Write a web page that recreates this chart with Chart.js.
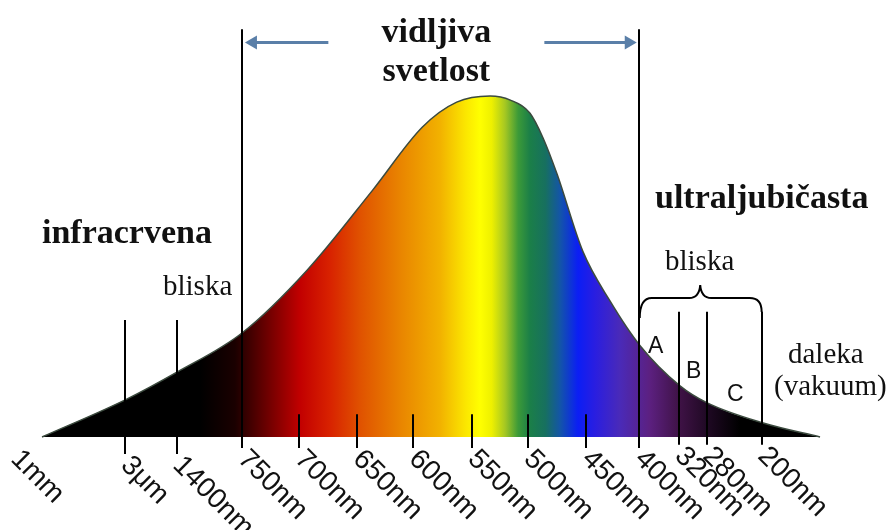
<!DOCTYPE html>
<html>
<head>
<meta charset="utf-8">
<script src="https://cdn.jsdelivr.net/npm/chart.js@4.4.1/dist/chart.umd.min.js"></script>
<style>
  html, body { margin: 0; padding: 0; background: #fff; }
</style>
</head>
<body>
<canvas id="spectrum-chart" width="892" height="530"></canvas>
<script>
// position along the spectrum (0 = infrared end, 100 = far UV end) and relative intensity
const curveX = [0, 10.7, 17.4, 25.7, 34.1, 42.5, 48.9, 53.3, 57.6, 60.2, 62.7, 64.4, 66.2, 69.5, 73.0, 76.9, 82.0, 85.5, 92.7, 100];
const curveY = [0, 10.9, 19.1, 30.5, 49.0, 72.4, 90.9, 98.2, 100, 98.8, 95.0, 87.7, 77.1, 54.5, 39.9, 26.7, 15.0, 10.0, 4.1, 0];

// wavelength ticks
const tickLabels = ['1mm', '3μm', '1400nm', '750nm', '700nm', '650nm', '600nm', '550nm', '500nm', '450nm', '400nm', '320nm', '280nm', '200nm'];
const tickPos = [-3.5, 10.7, 17.4, 25.7, 33.0, 40.5, 47.7, 55.3, 62.5, 69.9, 76.7, 81.9, 85.5, 92.5];
const tickKind = ['none', 'ir', 'ir', 'edge', 'short', 'short', 'short', 'short', 'short', 'short', 'edge', 'uv', 'uv', 'uv'];

// line top / bottom in intensity units for each kind of tick
const lineSpan = {
  none: null,
  ir: [34.3, -5],
  edge: [119.6, -3.2],
  short: [6.7, -3.2],
  uv: [36.7, -2.3],
};

const spectrumStops = [
  [0, '#000000'], [0.203, '#000000'], [0.248, '#1a0000'], [0.28, '#5a0000'], [0.332, '#c20000'],
  [0.37, '#d82200'], [0.409, '#e05200'], [0.46, '#e98400'], [0.512, '#f2b200'], [0.544, '#fbe600'],
  [0.563, '#ffff00'], [0.578, '#eef000'], [0.595, '#a6c822'], [0.612, '#3c9a38'], [0.627, '#1b7f48'],
  [0.647, '#17705f'], [0.666, '#1355a8'], [0.689, '#0b1ef5'], [0.711, '#2a1ee0'], [0.743, '#4a2ab8'],
  [0.781, '#5c2080'], [0.82, '#3e1245'], [0.859, '#1c0820'], [0.897, '#000000'], [1, '#000000'],
];

function spectrumFill(context) {
  const chart = context.chart;
  if (!chart.chartArea) return '#000';
  const xs = chart.scales.x;
  const g = chart.ctx.createLinearGradient(xs.getPixelForValue(0), 0, xs.getPixelForValue(100), 0);
  spectrumStops.forEach(s => g.addColorStop(s[0], s[1]));
  return g;
}

function arrow(ctx, x1, x2, y) {
  const dir = Math.sign(x2 - x1);
  ctx.beginPath();
  ctx.moveTo(x1, y);
  ctx.lineTo(x2 - dir * 6, y);
  ctx.stroke();
  ctx.beginPath();
  ctx.moveTo(x2, y);
  ctx.lineTo(x2 - dir * 12, y - 7);
  ctx.lineTo(x2 - dir * 12, y + 7);
  ctx.closePath();
  ctx.fill();
}

const spectrumOverlay = {
  id: 'spectrumOverlay',
  afterDatasetsDraw(chart) {
    const {ctx, scales: {x, y}} = chart;
    ctx.save();

    // tick lines and rotated labels
    ctx.strokeStyle = '#000';
    ctx.lineWidth = 2;
    tickPos.forEach((p, i) => {
      const px = Math.round(x.getPixelForValue(p));
      const span = lineSpan[tickKind[i]];
      let bottom = y.getPixelForValue(-3.2);
      if (span) {
        bottom = y.getPixelForValue(span[1]);
        ctx.beginPath();
        ctx.moveTo(px, y.getPixelForValue(span[0]));
        ctx.lineTo(px, bottom);
        ctx.stroke();
      }
      ctx.save();
      ctx.translate(px + 10, bottom - 3);
      ctx.rotate(Math.PI / 4);
      ctx.fillStyle = '#111';
      ctx.font = '28px "Liberation Sans", Arial, sans-serif';
      ctx.textAlign = 'left';
      ctx.textBaseline = 'top';
      ctx.fillText(tickLabels[i], 0, 0);
      ctx.restore();
    });

    // visible range arrows
    const xl = x.getPixelForValue(tickPos[3]);
    const xr = x.getPixelForValue(tickPos[10]);
    const ay = y.getPixelForValue(115.7);
    const cx = (xl + xr) / 2 - 4;
    ctx.strokeStyle = '#5a7fa8';
    ctx.fillStyle = '#5a7fa8';
    ctx.lineWidth = 3;
    arrow(ctx, cx - 108, xl + 3, ay);
    arrow(ctx, cx + 108, xr - 2, ay);

    // brace over the near UV bands
    const bl = x.getPixelForValue(tickPos[10]);
    const br = x.getPixelForValue(tickPos[13]);
    const bm = (bl + br) / 2;
    const by = 298;
    ctx.strokeStyle = '#000';
    ctx.lineWidth = 2;
    ctx.beginPath();
    ctx.moveTo(bl + 1, by + 20);
    ctx.quadraticCurveTo(bl + 1, by, bl + 13, by);
    ctx.lineTo(bm - 11, by);
    ctx.quadraticCurveTo(bm - 1, by, bm, by - 13);
    ctx.quadraticCurveTo(bm + 1, by, bm + 11, by);
    ctx.lineTo(br - 12, by);
    ctx.quadraticCurveTo(br, by, br, by + 14);
    ctx.stroke();

    // texts
    ctx.fillStyle = '#111';
    ctx.textBaseline = 'alphabetic';
    ctx.textAlign = 'center';
    ctx.font = 'bold 34px "Liberation Serif", "Times New Roman", serif';
    ctx.fillText('vidljiva', cx, 42);
    ctx.fillText('svetlost', cx, 81);
    ctx.textAlign = 'left';
    ctx.fillText('infracrvena', 42, 243);
    ctx.fillText('ultraljubičasta', 655, 208);

    ctx.font = '29px "Liberation Serif", "Times New Roman", serif';
    ctx.fillText('bliska', 163, 295);
    ctx.fillText('bliska', 665, 270);
    ctx.fillText('daleka', 788, 363);
    ctx.fillText('(vakuum)', 774, 395);

    ctx.font = '23px "Liberation Sans", Arial, sans-serif';
    ctx.fillText('A', 648, 353);
    ctx.fillText('B', 686, 378);
    ctx.fillText('C', 727, 401);

    ctx.restore();
  }
};

new Chart(document.getElementById('spectrum-chart'), {
  type: 'line',
  data: {
    datasets: [
      {
        label: 'spektar',
        data: curveX.map((v, i) => ({x: v, y: curveY[i]})),
        borderColor: '#3b4a3e',
        borderWidth: 1.5,
        backgroundColor: spectrumFill,
        fill: 'origin',
        pointRadius: 0,
        cubicInterpolationMode: 'monotone',
      },
    ],
  },
  options: {
    responsive: false,
    animation: false,
    layout: { padding: 0 },
    plugins: {
      legend: { display: false },
      tooltip: { enabled: false },
    },
    scales: {
      x: { type: 'linear', display: false, min: -5.4, max: 109.25 },
      y: { type: 'linear', display: false, min: -27.27, max: 128.15 },
    },
  },
  plugins: [spectrumOverlay],
});
</script>
</body>
</html>
